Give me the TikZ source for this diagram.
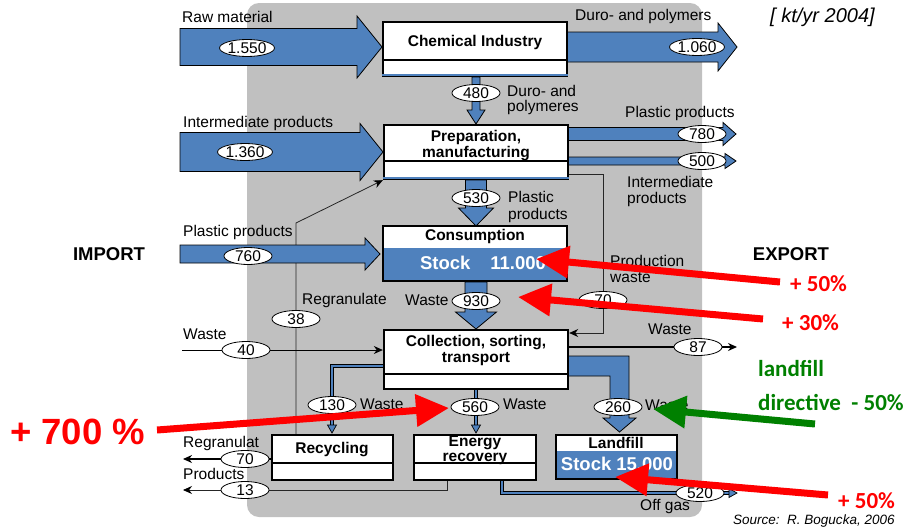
\documentclass[tikz,border=0pt]{standalone}
\usepackage{fontspec}
\setmainfont{Liberation Sans}
\newfontfamily\carlito{Carlito}
\usetikzlibrary{shapes.geometric,arrows.meta}
\definecolor{bgray}{RGB}{192,192,192}
\definecolor{fblue}{RGB}{79,129,189}
\definecolor{agreen}{RGB}{0,128,0}
\pgfdeclarelayer{bglayer}
\pgfdeclarelayer{flowlayer}
\pgfsetlayers{bglayer,flowlayer,main}
\newcommand\fs[1]{\fontsize{#1}{#1}\selectfont}
\newcommand\fatR[6]{\draw[fat] (#1,{#4-#5}) -- (#3,{#4-#5}) -- (#3,{#4-#6}) -- (#2,#4) -- (#3,{#4+#6}) -- (#3,{#4+#5}) -- (#1,{#4+#5}) -- cycle;}
\newcommand\fatD[6]{\draw[fat] ({#1-#5},#2) -- ({#1-#5},#4) -- ({#1-#6},#4) -- (#1,#3) -- ({#1+#6},#4) -- ({#1+#5},#4) -- ({#1+#5},#2) -- cycle;}
\begin{document}
\begin{tikzpicture}[x=1pt,y=-1pt,
 box/.style={draw,fill=white,line width=2.4pt,inner sep=0pt},
 divl/.style={line width=1.1pt},
 txt/.style={inner sep=0pt,font=\fs{15.5}},
 lbl/.style={txt,anchor=west},
 btxt/.style={inner sep=0pt,font=\fs{15.5}\bfseries},
 oval/.style={ellipse,draw,fill=white,line width=0.8pt,inner sep=0pt,minimum width=48pt,minimum height=17pt,font=\fs{15.5}},
 fat/.style={fill=fblue,draw=black,line width=0.8pt,line join=miter},
 pipe/.style={draw=black,line width=0.7pt,double=fblue,double distance=2.6pt},
 pipetip/.style={fill=fblue,draw=black,line width=0.7pt},
 thinl/.style={draw=black!85,line width=0.8pt},
 blk/.style={draw=black,line width=1.4pt},
 stl/.style={-{Stealth[length=9pt,width=8pt,color=black]}},
 redarr/.style={draw=red,line width=7pt,-{Triangle[length=33pt,width=31pt]}},
 grnarr/.style={draw=agreen,line width=7pt,-{Triangle[length=33pt,width=31pt]}},
 ann/.style={inner sep=0pt,anchor=west,font=\carlito\bfseries\fs{23}},
]
\useasboundingbox (0,0) rectangle (915,530);
\begin{pgfonlayer}{bglayer}
\fill[white] (0,0) rectangle (915,530);
\fill[bgray,rounded corners=12pt] (247,3) rectangle (702,517);
\end{pgfonlayer}

% boxes
\node[box,minimum width=184pt,minimum height=54pt] (chem) at (475,49) {};
\draw[fblue,line width=1.4pt] ([yshift=2.2pt]chem.south west) -- ([yshift=2.2pt]chem.south east);
\draw[divl] (chem.west |- 0,60) -- (chem.east |- 0,60);
\node[box,minimum width=184pt,minimum height=54pt] (prep) at (476,152) {};
\draw[fblue,line width=1.4pt] ([yshift=2.2pt]prep.south west) -- ([yshift=2.2pt]prep.south east);
\draw[divl] (prep.west |- 0,161) -- (prep.east |- 0,161);
\node[box,minimum width=184pt,minimum height=55pt,
  path picture={\fill[fblue] (path picture bounding box.south west) rectangle ([yshift=33pt]path picture bounding box.south east);}] (cons) at (475,253.5) {};
\node[box,minimum width=184pt,minimum height=59pt] (coll) at (476,359.5) {};
\draw[divl] (coll.west |- 0,374) -- (coll.east |- 0,374);
\node[box,minimum width=121pt,minimum height=45pt] (recy) at (332.5,457.5) {};
\draw[divl] (recy.west |- 0,463) -- (recy.east |- 0,463);
\node[box,minimum width=122pt,minimum height=45pt] (ener) at (475,457.5) {};
\draw[divl] (ener.west |- 0,463) -- (ener.east |- 0,463);
\node[box,minimum width=121pt,minimum height=44pt,
  path picture={\fill[fblue] (path picture bounding box.south west) rectangle ([yshift=28pt]path picture bounding box.south east);}] (land) at (616.5,457) {};

\begin{pgfonlayer}{flowlayer}
% thin connectors
\draw[thinl,stl] (recy.north -| 296,0) -- (296,223) -- (prep.south west);
\draw[draw=black,line width=0.8pt,stl] (182,350) -- (coll.west |- 0,350);
\draw[blk,stl] (coll.east |- 0,347) -- (737,347);
\draw[thinl,stl] (prep.east |- 0,174) -- (603,174) -- (603,333) -- (coll.east |- 0,333);
\draw[blk,stl] (recy.west |- 0,459) -- (183,459);
\draw[thinl,stl] (ener.south -| 447,0) -- (447,490) -- (183,490);
% pipes
\draw[pipe] (coll.west |- 0,366) -- (332,366) -- (332,426);
\draw[pipetip] (327.5,425) -- (336.5,425) -- (332,433) -- cycle;
\draw[pipe] (coll.south) -- (476,426);
\draw[pipetip] (471.5,425) -- (480.5,425) -- (476,433) -- cycle;
\draw[pipe] (ener.south -| 502,0) -- (502,493) -- (729,493);
\draw[pipetip] (729,488.5) -- (729,497.5) -- (737,493) -- cycle;
% fat arrows
\fatR{180}{382}{357}{47}{18.5}{31}
\fatR{567}{737}{718}{47}{15}{24}
\fatR{180}{383}{360}{152}{19.5}{28.5}
\fatR{567}{736}{723}{134}{6.5}{11.5}
\fatR{567}{736}{725}{161}{4}{7.5}
\fatR{180}{380}{365}{254}{9}{16}
\fatD{476}{77}{124}{110}{4}{9}
\fatD{476}{180}{226}{208}{10.5}{17.5}
\fatD{476}{282}{329}{312}{11}{20.5}
\draw[fat] (567,356) -- (629,356) -- (629,418) -- (636,418) -- (619.5,432) -- (603,418) -- (610,418) -- (610,376) -- (567,376) -- cycle;
\end{pgfonlayer}

% box texts
\node[btxt] (chemT) at (475,42) {Chemical Industry};
\node[btxt] (prepT1) at (476,137) {Preparation,};
\node[btxt] (prepT2) at (476,154) {manufacturing};
\node[btxt] (consT) at (475,236) {Consumption};
\node[inner sep=0pt,font=\fs{18.5}\bfseries,text=white] (consS) at (483,263) {Stock\hspace{20pt}11.000};
\node[btxt] (collT1) at (476,343) {Collection, sorting,};
\node[btxt] (collT2) at (476,359) {transport};
\node[btxt] (recyT) at (332,450) {Recycling};
\node[btxt] (enerT1) at (475,443) {Energy};
\node[btxt] (enerT2) at (475,459) {recovery};
\node[btxt] (landT) at (616,443) {Landfill};
\node[inner sep=0pt,font=\fs{18.5}\bfseries,text=white] (landS) at (617,464) {Stock 15.000};

% ovals
\node[oval] (o1) at (247,48) {1.550};
\node[oval] (o2) at (697,47) {1.060};
\node[oval] (o3) at (476,93) {480};
\node[oval] (o4) at (245,152) {1.360};
\node[oval] (o5) at (702,134) {780};
\node[oval] (o6) at (702,161) {500};
\node[oval] (o7) at (476,198) {530};
\node[oval] (o8) at (248,256) {760};
\node[oval] (o9) at (476,301) {930};
\node[oval] (o10) at (603,300) {70};
\node[oval] (o11) at (296,319) {38};
\node[oval] (o12) at (246,350) {40};
\node[oval] (o13) at (698,347) {87};
\node[oval] (o14) at (332,405) {130};
\node[oval] (o15) at (475,407) {560};
\node[oval] (o16) at (618,407) {260};
\node[oval] (o17) at (245,459) {70};
\node[oval] (o18) at (245,490) {13};
\node[oval] (o19) at (700,493) {520};

% labels
\node[lbl] (l1) at (182,17) {Raw material};
\node[lbl] (l2) at (575,16) {Duro- and polymers};
\node[inner sep=0pt,anchor=west,font=\fs{20}\itshape] (l3) at (770,17) {[ kt/yr 2004]};
\node[lbl] (l4) at (507,91) {Duro- and};
\node[lbl] (l5) at (507,107) {polymeres};
\node[lbl] (l6) at (183,123) {Intermediate products};
\node[lbl] (l7) at (625,113) {Plastic products};
\node[lbl] (l8) at (627,182) {Intermediate};
\node[lbl] (l9) at (627,199) {products};
\node[lbl] (l10) at (508,197) {Plastic};
\node[lbl] (l11) at (508,215) {products};
\node[lbl] (l12) at (183,232) {Plastic products};
\node[lbl] (l13) at (610,261) {Production};
\node[lbl] (l14) at (610,278) {waste};
\node[lbl] (l15) at (302,300) {Regranulate};
\node[lbl] (l16) at (405,300) {Waste};
\node[lbl] (l17) at (183,334) {Waste};
\node[lbl] (l18) at (648,329) {Waste};
\node[lbl] (l19) at (360,404) {Waste};
\node[lbl] (l20) at (503,404) {Waste};
\node[lbl] (l21) at (645,405) {Waste};
\node[lbl] (l22) at (183,443) {Regranulat};
\node[lbl] (l23) at (183,474) {Products};
\node[lbl] (l24) at (640,506) {Off gas};
\node[inner sep=0pt,anchor=west,font=\fs{13.5}\itshape] (l25) at (733,521) {Source:\ \ R. Bogucka, 2006};
\node[inner sep=0pt,font=\fs{18.5}\bfseries] (imp) at (109,254) {IMPORT};
\node[inner sep=0pt,font=\fs{18.5}\bfseries] (exp) at (791,254) {EXPORT};

% annotation arrows
\coordinate (r1s) at (780,282); \coordinate (r1e) at (536,259);
\coordinate (r2s) at (763,319); \coordinate (r2e) at (518,297);
\coordinate (r3s) at (157,430); \coordinate (r3e) at (449,408);
\coordinate (g1s) at (815,424); \coordinate (g1e) at (653,409);
\coordinate (r4s) at (828,495); \coordinate (r4e) at (615,477);
\draw[redarr] (r1s) -- (r1e);
\draw[redarr] (r2s) -- (r2e);
\draw[redarr] (r3s) -- (r3e);
\draw[grnarr] (g1s) -- (g1e);
\draw[redarr] (r4s) -- (r4e);

\node[ann,text=red] (a1) at (790,284) {+ 50\%};
\node[ann,text=red] (a2) at (782,323) {+ 30\%};
\node[inner sep=0pt,anchor=west,font=\fs{36.5}\bfseries,text=red] (a3) at (10,432) {+ 700 \%};
\node[ann,text=agreen] (a4) at (758,368) {landfill};
\node[ann,text=agreen] (a5) at (758,403) {directive\ \ - 50\%};
\node[ann,text=red] (a6) at (838,501) {+ 50\%};
\end{tikzpicture}
\end{document}
